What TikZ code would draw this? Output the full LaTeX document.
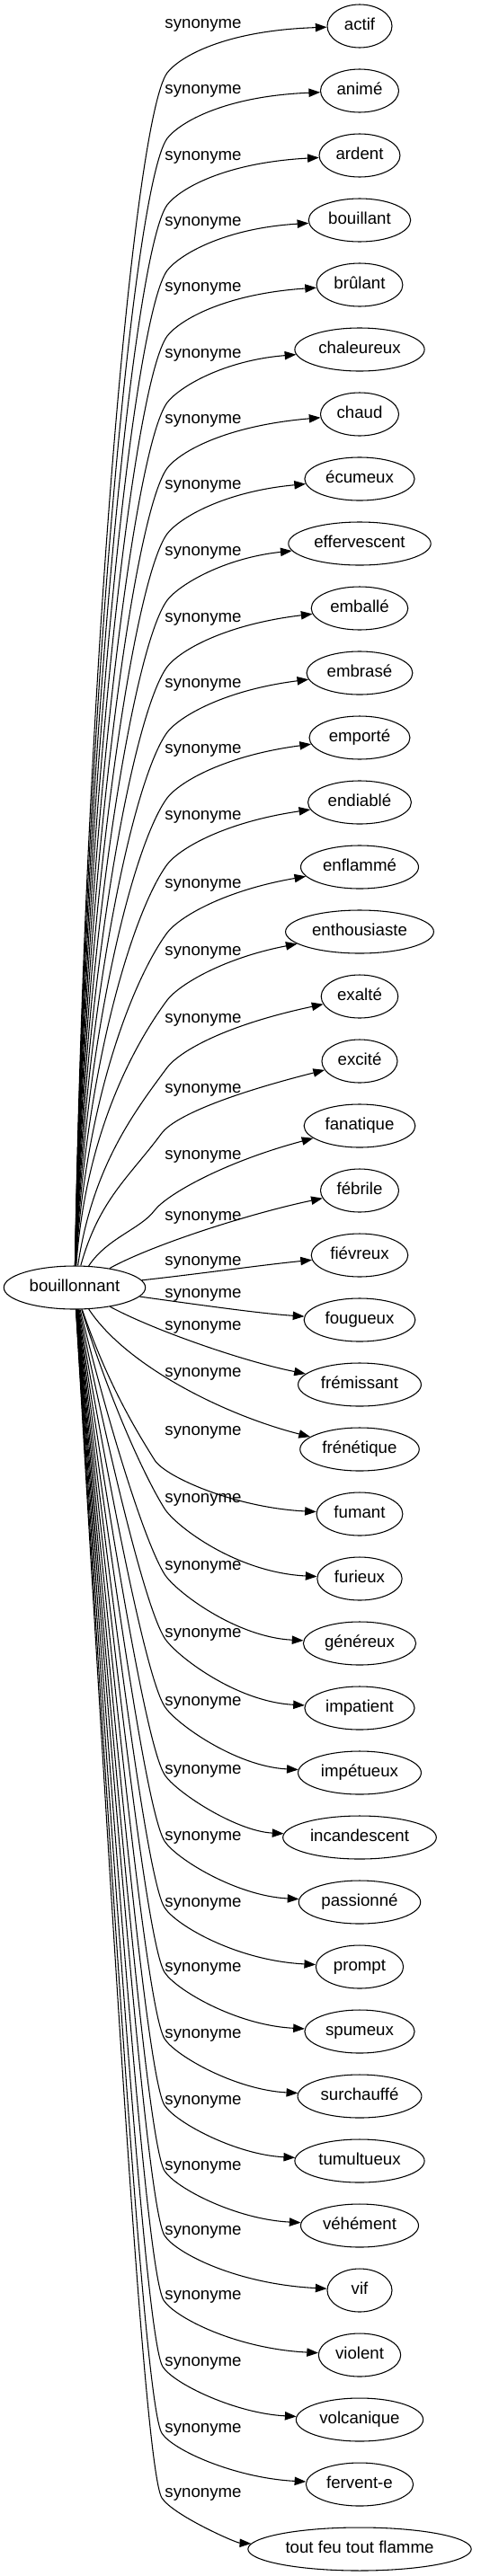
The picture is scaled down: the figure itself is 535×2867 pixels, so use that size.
\documentclass[tikz,border=0pt]{standalone}
\usepackage{fontspec}
\setmainfont{Liberation Sans}
\usetikzlibrary{arrows.meta,shapes.geometric}
\tikzset{
  word/.style={draw, ellipse, line width=0.8pt, minimum width=54pt, minimum height=36pt,
    inner xsep=4pt, inner ysep=3pt, text height=10pt, text depth=3pt},
  rel/.style={anchor=base},
  syn/.style={line width=0.8pt, -{Triangle[length=9.5pt,width=7pt]}}
}
\begin{document}
\begin{tikzpicture}[x=0.75pt, y=-0.75pt, font=\fontsize{14pt}{17pt}\selectfont]
\useasboundingbox (0,0) rectangle (535,2867);
% ---------- the word and its synonyms ----------
\node[word] (bouil) at (83,1433) {bouillonnant};
\foreach \i/\term/\yl in {1/actif/26, 2/animé/99, 3/ardent/173, 4/bouillant/246, 5/brûlant/319,
    6/chaleureux/393, 7/chaud/466, 8/écumeux/539, 9/effervescent/613, 10/emballé/687,
    11/embrasé/760, 12/emporté/833, 13/endiablé/907, 14/enflammé/983, 15/enthousiaste/1058,
    16/exalté/1133, 17/excité/1211, 18/fanatique/1285, 19/fébrile/1353, 20/fiévreux/1403,
    21/fougueux/1439, 22/frémissant/1475, 23/frénétique/1527, 24/fumant/1592, 25/furieux/1667,
    26/généreux/1742, 27/impatient/1817, 28/impétueux/1893, 29/incandescent/1969, 30/passionné/2043,
    31/prompt/2117, 32/spumeux/2189, 33/surchauffé/2263, 34/tumultueux/2337, 35/véhément/2410,
    36/vif/2482, 37/violent/2554, 38/volcanique/2628, 39/fervent-e/2702, 40/tout feu tout flamme/2774} {
  \node[word] (w\i) at (400,{29+72*(\i-1)}) {\term};
  \node[rel] (lab\i) at (226,\yl+5) {synonyme};
}
% ---------- edges going up: rise, bend under the label, run in ----------
\foreach \i/\yl/\mx/\md in {1/26/186/55, 2/99/186/55, 3/173/186/55, 4/246/186/55, 5/319/186/55,
    6/393/186/55, 7/466/186/55, 8/539/186/55, 9/613/186/55, 10/687/186/55, 11/760/186/55,
    12/833/186/55, 13/907/186/55, 14/983/186/55, 15/1058/186/55, 16/1133/186/55,
    17/1211/180/50, 18/1285/172/62} {
  \pgfmathsetmacro{\my}{\yl+\md}
  \pgfmathsetmacro{\dist}{1409-\my}
  \pgfmathsetmacro{\fr}{min(1,\dist/150)}
  \pgfmathsetmacro{\ax}{95+30*(1-min(1,\dist/300))}
  \draw[syn] (bouil) .. controls (\ax,{1409-0.5*\dist}) and ({\mx-37*\fr},{\my+50*\fr}) .. (\mx,\my)
    .. controls ({\mx+14},{\my-18}) and (250,\yl+8) .. (w\i);
}
% ---------- edges in the middle ----------
\draw[syn] (bouil) .. controls (170,1385) and (280,1350) .. (w19);
\draw[syn] (bouil) .. controls (220,1418) and (290,1408) .. (w20);
\draw[syn] (bouil) .. controls (220,1452) and (290,1462) .. (w21);
\draw[syn] (bouil) .. controls (170,1480) and (270,1515) .. (w22);
\draw[syn] (bouil) .. controls (140,1520) and (250,1575) .. (w23);
% ---------- edges going down: drop, bend at the label, run in ----------
\foreach \i/\yl/\mx/\md in {24/1592/172/33, 25/1667/183/12, 26/1742/183/10, 27/1817/183/6,
    28/1893/183/6, 29/1969/183/6, 30/2043/183/6, 31/2117/183/6, 32/2189/183/6, 33/2263/183/6,
    34/2337/183/6, 35/2410/183/6, 36/2482/183/6, 37/2554/182/6, 38/2628/181/6, 39/2702/180/6,
    40/2774/180/6} {
  \pgfmathsetmacro{\my}{\yl+\md}
  \pgfmathsetmacro{\dist}{\my-1457}
  \pgfmathsetmacro{\fr}{min(1,\dist/150)}
  \draw[syn] (bouil) .. controls ({0.5*(68+\mx)},{1457+0.5*\dist}) and ({\mx-20*\fr},{\my-32*\fr}) .. (\mx,\my)
    .. controls ({\mx+12},{\my+19}) and (262,{22+72*(\i-1)}) .. (w\i);
}
\end{tikzpicture}
\end{document}
